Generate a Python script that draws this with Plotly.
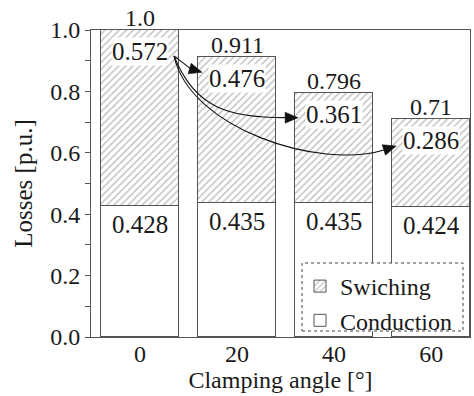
import plotly.graph_objects as go

# Loss breakdown per clamping angle (per-unit of the 0° case)
angles = [0, 20, 40, 60]
conduction = [0.428, 0.435, 0.435, 0.424]
switching = [0.572, 0.476, 0.361, 0.286]
y_ticks = [0.0, 0.2, 0.4, 0.6, 0.8, 1.0]

totals = [round(c + s, 3) for c, s in zip(conduction, switching)]


def fmt_total(v):
    s = f"{v:.3f}".rstrip("0")
    if s.endswith("."):
        s += "0"
    return s


FONT = "Liberation Serif"
INK = "#1a1a1a"
EDGE = "#555555"
HATCH = "#7a7a7a"

W, H = 474, 396
M = dict(l=91, r=4, t=30, b=59, pad=0)
X_RANGE = [-10.1, 68.0]
Y_RANGE = [0.0, 1.0]
PW = W - M["l"] - M["r"]
PH = H - M["t"] - M["b"]


def to_px(x, y):
    return (M["l"] + (x - X_RANGE[0]) / (X_RANGE[1] - X_RANGE[0]) * PW,
            M["t"] + (Y_RANGE[1] - y) / (Y_RANGE[1] - Y_RANGE[0]) * PH)


def to_data(px, py):
    return (X_RANGE[0] + (px - M["l"]) / PW * (X_RANGE[1] - X_RANGE[0]),
            Y_RANGE[1] - (py - M["t"]) / PH * (Y_RANGE[1] - Y_RANGE[0]))


fig = go.Figure()
fig.add_trace(go.Bar(
    x=angles, y=conduction, name="Conduction", width=16,
    marker=dict(color="white", line=dict(color=EDGE, width=1)),
))
fig.add_trace(go.Bar(
    x=angles, y=switching, name="Swiching", width=16,
    marker=dict(color="white", line=dict(color=EDGE, width=1),
                pattern=dict(shape="/", fgcolor=HATCH, bgcolor="white",
                             size=5, solidity=0.28)),
))

annotations = []
for a, c, s, t in zip(angles, conduction, switching, totals):
    annotations.append(dict(x=a, y=t, text=fmt_total(t), showarrow=False,
                            yanchor="bottom", yshift=-3,
                            font=dict(family=FONT, size=24, color=INK)))
    annotations.append(dict(x=a, y=t, text=f"{s:.3f}", showarrow=False,
                            yanchor="top", yshift=-7, bgcolor="white",
                            borderpad=0,
                            font=dict(family=FONT, size=25, color=INK)))
    annotations.append(dict(x=a, y=c, text=f"{c:.3f}", showarrow=False,
                            yanchor="top", yshift=-3,
                            font=dict(family=FONT, size=25, color=INK)))

# Curved arrows from the 0° switching label to the other switching labels
shapes = []
sx, sy = to_px(angles[0], totals[0])
start = (sx + 34, sy + 26)
tip_offsets = [None, (-35, 15), (-36, 25), (-35, 27)]
ctrl = [None,
        ((9, 7), (-10, -3)),
        ((21, 53), (-68, 0)),
        ((16, 73), (-76, 24))]
for i in range(1, len(angles)):
    bx, by = to_px(angles[i], totals[i])
    tip = (bx + tip_offsets[i][0], by + tip_offsets[i][1])
    c1 = (start[0] + ctrl[i][0][0], start[1] + ctrl[i][0][1])
    c2 = (tip[0] + ctrl[i][1][0], tip[1] + ctrl[i][1][1])
    # unit tangent at the tip
    dx, dy = tip[0] - c2[0], tip[1] - c2[1]
    n = (dx * dx + dy * dy) ** 0.5
    ux, uy = dx / n, dy / n
    L, hw = 13, 5.5
    base = (tip[0] - ux * L, tip[1] - uy * L)
    pts = [start, c1, c2, base]
    d = [to_data(*p) for p in pts]
    path = (f"M {d[0][0]},{d[0][1]} C {d[1][0]},{d[1][1]} "
            f"{d[2][0]},{d[2][1]} {d[3][0]},{d[3][1]}")
    shapes.append(dict(type="path", path=path, xref="x", yref="y",
                       line=dict(color="#111111", width=1.1), layer="above"))
    h1 = (base[0] - uy * hw, base[1] + ux * hw)
    h2 = (base[0] + uy * hw, base[1] - ux * hw)
    hd = [to_data(*p) for p in (tip, h1, h2)]
    shapes.append(dict(type="path", xref="x", yref="y", layer="above",
                       path=(f"M {hd[0][0]},{hd[0][1]} L {hd[1][0]},{hd[1][1]} "
                             f"L {hd[2][0]},{hd[2][1]} Z"),
                       fillcolor="#111111", line=dict(color="#111111", width=0.5)))

# Dotted frame behind the legend
shapes.append(dict(type="rect", xref="paper", yref="paper", layer="above",
                   x0=(302 - M["l"]) / PW, x1=(463 - M["l"]) / PW,
                   y0=(H - M["b"] - 331) / PH, y1=(H - M["b"] - 263) / PH,
                   fillcolor="white", line=dict(color="#444444", width=1, dash="dot")))

fig.update_layout(
    width=W, height=H, margin=M,
    barmode="stack", bargap=0,
    plot_bgcolor="white", paper_bgcolor="white",
    font=dict(family=FONT, size=24, color=INK),
    showlegend=True,
    legend=dict(x=(300 - M["l"]) / PW, y=(H - M["b"] - 264) / PH,
                xanchor="left", yanchor="top", bgcolor="rgba(0,0,0,0)",
                borderwidth=0, traceorder="reversed",
                font=dict(family=FONT, size=24, color=INK),
                tracegroupgap=0, itemwidth=30),
    annotations=annotations,
    shapes=shapes,
    xaxis=dict(range=X_RANGE, tickvals=angles, ticktext=[str(a) for a in angles],
               showline=True, linecolor=EDGE, linewidth=1, mirror=True,
               ticks="", showgrid=False, zeroline=False, ticklabelstandoff=-5,
               tickfont=dict(family=FONT, size=24, color=INK),
               title=dict(text="Clamping angle [°]", standoff=0,
                          font=dict(family=FONT, size=24, color=INK))),
    yaxis=dict(range=Y_RANGE, tickvals=y_ticks,
               ticktext=[f"{v:.1f}" for v in y_ticks],
               showline=True, linecolor=EDGE, linewidth=1, mirror=True,
               ticks="outside", ticklen=5, tickcolor=EDGE,
               minor=dict(ticks="outside", ticklen=5, tickcolor=EDGE,
                          dtick=0.1, tick0=0, showgrid=False),
               showgrid=False, zeroline=False,
               tickfont=dict(family=FONT, size=24, color=INK),
               title=dict(text="Losses [p.u.]", standoff=10,
                          font=dict(family=FONT, size=25, color=INK))),
)

fig.write_html("out.html")
